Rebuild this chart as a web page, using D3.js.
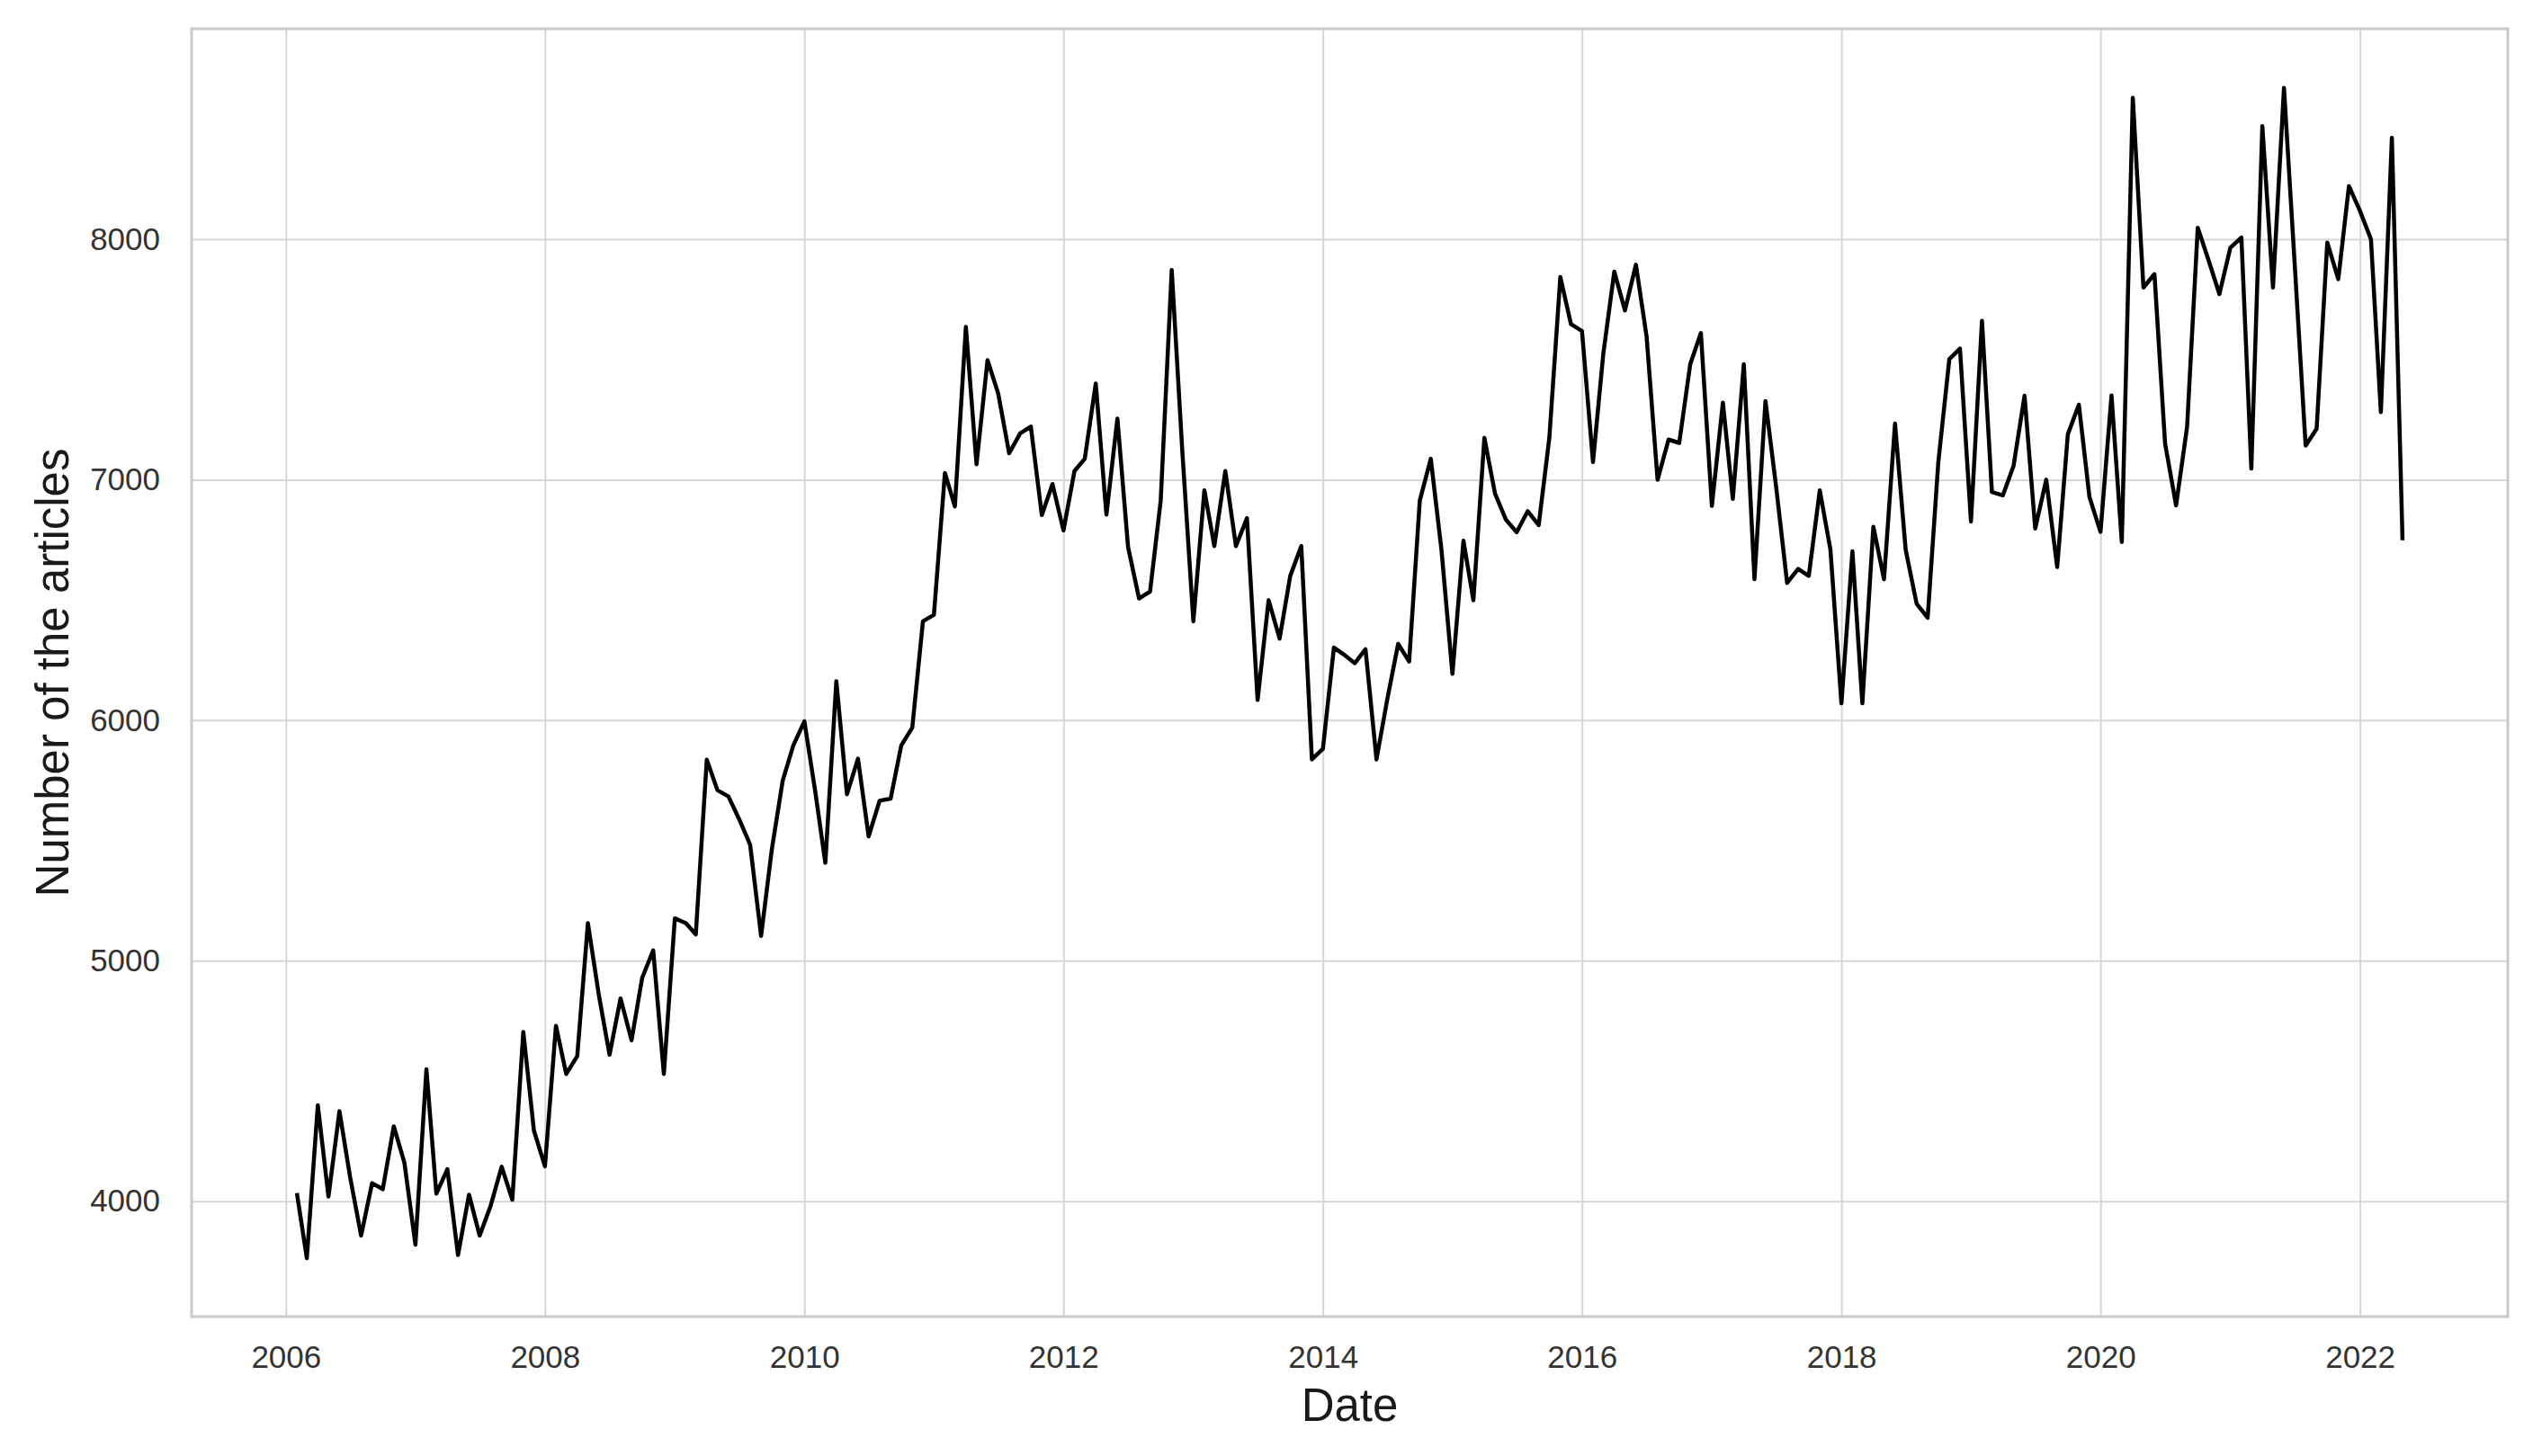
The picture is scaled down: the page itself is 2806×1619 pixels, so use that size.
<!DOCTYPE html>
<html>
<head>
<meta charset="utf-8">
<script src="https://cdn.jsdelivr.net/npm/d3@7"></script>
<style>
  html, body { margin: 0; padding: 0; background: #ffffff; }
  svg { display: block; }
</style>
</head>
<body>
<script>
// ---- Data: monthly number of articles (first value = February 2006) ----
const firstMonth = [2006, 2]; // year, month (1-based)
const counts2006 = [4034, 3763, 4399, 4019, 4374, 4100, 3857, 4075, 4050, 4311, 4160];
const counts2007 = [3819, 4548, 4031, 4133, 3776, 4027, 3857, 3981, 4143, 4006, 4704, 4293];
const counts2008 = [4145, 4729, 4529, 4603, 5156, 4856, 4609, 4843, 4669, 4929, 5043, 4529];
const counts2009 = [5176, 5156, 5109, 5836, 5709, 5683, 5589, 5483, 5103, 5460, 5749, 5896];
const counts2010 = [5995, 5700, 5407, 6162, 5692, 5840, 5517, 5665, 5674, 5895, 5969, 6411];
const counts2011 = [6438, 7028, 6889, 7635, 7064, 7497, 7359, 7110, 7193, 7221, 6853, 6982];
const counts2012 = [6789, 7036, 7087, 7400, 6855, 7254, 6720, 6506, 6535, 6913, 7872, 7116];
const counts2013 = [6411, 6956, 6724, 7036, 6724, 6840, 6084, 6499, 6339, 6600, 6724, 5837];
const counts2014 = [5881, 6302, 6273, 6237, 6295, 5837, 6084, 6317, 6244, 6913, 7087, 6709];
const counts2015 = [6193, 6746, 6499, 7174, 6942, 6833, 6782, 6869, 6811, 7174, 7843, 7647];
const counts2016 = [7618, 7073, 7523, 7865, 7704, 7894, 7596, 7000, 7167, 7153, 7480, 7610];
const counts2017 = [6891, 7320, 6920, 7480, 6586, 7327, 6971, 6571, 6629, 6600, 6956, 6709];
const counts2018 = [6070, 6702, 6070, 6804, 6586, 7233, 6709, 6484, 6426, 7073, 7501, 7545];
const counts2019 = [6826, 7661, 6949, 6935, 7058, 7349, 6797, 7000, 6637, 7189, 7312, 6927];
const counts2020 = [6783, 7350, 6741, 8588, 7799, 7855, 7150, 6893, 7220, 8048, 7910, 7772];
const counts2021 = [7965, 8007, 7046, 8470, 7799, 8629, 7900, 7142, 7212, 7986, 7834, 8221];
const counts2022 = [8118, 8000, 7281, 8422, 6748];

const xTickYears = [2006, 2008, 2010, 2012, 2014, 2016, 2018, 2020, 2022];
const yTickValues = [4000, 5000, 6000, 7000, 8000];
const yDomain = [3520, 8875];
const xLabel = "Date";
const yLabel = "Number of the articles";

// ---- Build series ----
const allCounts = [].concat(counts2006, counts2007, counts2008, counts2009, counts2010,
  counts2011, counts2012, counts2013, counts2014, counts2015, counts2016, counts2017,
  counts2018, counts2019, counts2020, counts2021, counts2022);
const series = allCounts.map((v, i) => ({
  date: new Date(Date.UTC(firstMonth[0], firstMonth[1] - 1 + i, 1)),
  value: v
}));

// ---- Layout ----
const W = 2806, H = 1619;
const plot = { left: 213, right: 2788, top: 32, bottom: 1464 };
const fontFamily = "'Liberation Sans', Arial, Helvetica, sans-serif";

const svg = d3.select("body").append("svg")
  .attr("width", W).attr("height", H)
  .attr("viewBox", `0 0 ${W} ${H}`);
svg.append("rect").attr("width", W).attr("height", H).attr("fill", "#ffffff");

// x scale with 5% margins around data (matplotlib style)
const dMin = series[0].date.getTime(), dMax = series[series.length - 1].date.getTime();
const pad = 0.05 * (dMax - dMin);
const x = d3.scaleUtc()
  .domain([new Date(dMin - pad), new Date(dMax + pad)])
  .range([plot.left, plot.right]);
const y = d3.scaleLinear().domain(yDomain).range([plot.bottom, plot.top]);

const plotW = plot.right - plot.left, plotH = plot.bottom - plot.top;

// ---- Axes with gridlines ----
const xAxis = d3.axisBottom(x)
  .tickValues(xTickYears.map(yr => new Date(Date.UTC(yr, 0, 1))))
  .tickFormat(d3.utcFormat("%Y"))
  .tickSize(-plotH)
  .tickPadding(32);
const gx = svg.append("g")
  .attr("transform", `translate(0,${plot.bottom})`)
  .call(xAxis);

const yAxis = d3.axisLeft(y)
  .tickValues(yTickValues)
  .tickFormat(d3.format("d"))
  .tickSize(-plotW)
  .tickPadding(35);
const gy = svg.append("g")
  .attr("transform", `translate(${plot.left},0)`)
  .call(yAxis);

[gx, gy].forEach(g => {
  g.select(".domain").remove();
  g.selectAll(".tick line").attr("stroke", "#d6d6d6").attr("stroke-width", 2);
  g.selectAll(".tick text")
    .attr("fill", "#333333")
    .attr("font-family", fontFamily)
    .attr("font-size", 35);
});

// ---- Frame ----
svg.append("rect")
  .attr("x", plot.left).attr("y", plot.top)
  .attr("width", plotW).attr("height", plotH)
  .attr("fill", "none")
  .attr("stroke", "#cacaca")
  .attr("stroke-width", 3);

// ---- Line ----
const line = d3.line()
  .x(d => x(d.date))
  .y(d => y(d.value));

svg.append("path")
  .datum(series)
  .attr("fill", "none")
  .attr("stroke", "#000000")
  .attr("stroke-width", 4.5)
  .attr("stroke-linejoin", "round")
  .attr("stroke-linecap", "butt")
  .attr("d", line);

// ---- Axis labels ----
svg.append("text")
  .attr("x", (plot.left + plot.right) / 2)
  .attr("y", 1580)
  .attr("text-anchor", "middle")
  .attr("font-family", fontFamily)
  .attr("font-size", 51)
  .attr("fill", "#1a1a1a")
  .text(xLabel);

svg.append("text")
  .attr("transform", `translate(76,${(plot.top + plot.bottom) / 2}) rotate(-90)`)
  .attr("text-anchor", "middle")
  .attr("font-family", fontFamily)
  .attr("font-size", 51)
  .attr("fill", "#1a1a1a")
  .text(yLabel);
</script>
</body>
</html>
